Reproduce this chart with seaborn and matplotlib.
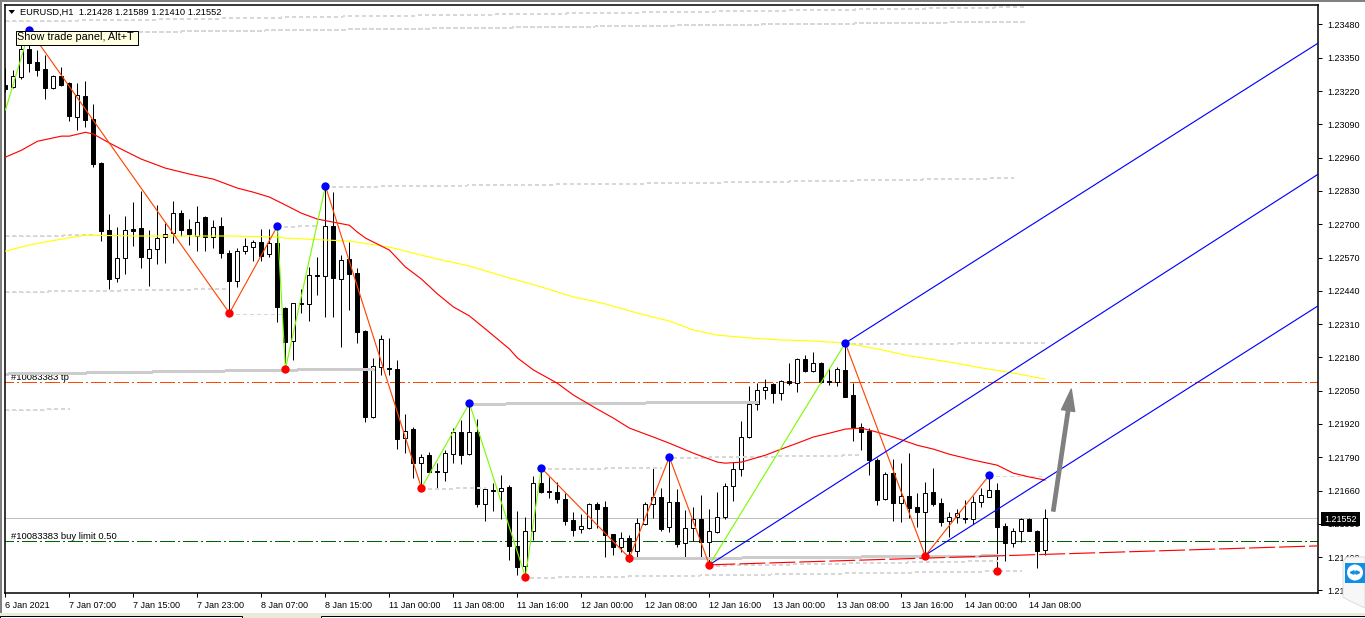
import matplotlib
matplotlib.use("Agg")
import numpy as np
import pandas as pd
import matplotlib.pyplot as plt
import seaborn as sns
from matplotlib.patches import Rectangle, Polygon, Circle

# EURUSD H1 candles, one value per bar
opens = [1.23243,1.23236,1.23275,1.23384,1.23333,1.23306,1.23232,1.23279,1.23251,1.23119,
    1.23200,1.23111,1.22938,1.22677,1.22490,1.22568,1.22681,1.22685,1.22568,1.22603,
    1.22650,1.22665,1.22743,1.22681,1.22654,1.22728,1.22650,1.22693,1.22587,1.22478,
    1.22595,1.22611,1.22630,1.22584,1.22626,1.22373,1.22244,1.22393,1.22389,1.22501,
    1.22497,1.22693,1.22486,1.22564,1.22509,1.22283,1.21947,1.22143,1.22139,1.22135,
    1.21865,1.21900,1.21767,1.21798,1.21736,1.21732,1.21802,1.21888,1.21802,1.21888,
    1.21607,1.21662,1.21658,1.21673,1.21444,1.21366,1.21502,1.21689,1.21660,1.21654,
    1.21627,1.21545,1.21510,1.21514,1.21607,1.21596,1.21490,1.21440,1.21475,1.21424,
    1.21529,1.21607,1.21635,1.21518,1.21615,1.21455,1.21514,1.21549,1.21459,1.21498,
    1.21557,1.21677,1.21744,1.21869,1.21997,1.22052,1.22076,1.22040,1.22087,1.22079,
    1.22174,1.22127,1.22158,1.22087,1.22083,1.22131,1.22033,1.21908,1.21892,1.21779,
    1.21627,1.21728,1.21611,1.21639,1.21596,1.21576,1.21654,1.21611,1.21541,1.21557,
    1.21553,1.21549,1.21615,1.21635,1.21662,1.21522,1.21455,1.21502,1.21549,1.21502,1.21428]
highs = [1.23310,1.23302,1.23407,1.23454,1.23380,1.23360,1.23282,1.23314,1.23255,1.23251,
    1.23259,1.23169,1.22942,1.22739,1.22689,1.22732,1.22786,1.22829,1.22677,1.22775,
    1.22704,1.22790,1.22755,1.22720,1.22771,1.22732,1.22716,1.22728,1.22599,1.22607,
    1.22646,1.22638,1.22681,1.22681,1.22696,1.22377,1.22393,1.22447,1.22533,1.22572,
    1.22849,1.22825,1.22580,1.22630,1.22529,1.22287,1.22178,1.22267,1.22256,1.22170,
    1.21958,1.21908,1.21802,1.21810,1.21767,1.21818,1.21904,1.21935,1.22001,1.21939,
    1.21673,1.21689,1.21720,1.21681,1.21580,1.21557,1.21716,1.21748,1.21713,1.21693,
    1.21650,1.21576,1.21568,1.21611,1.21615,1.21619,1.21490,1.21498,1.21486,1.21553,
    1.21615,1.21752,1.21670,1.21779,1.21666,1.21584,1.21596,1.21643,1.21588,1.21654,
    1.21689,1.21771,1.21931,1.22068,1.22079,1.22095,1.22079,1.22091,1.22158,1.22178,
    1.22190,1.22201,1.22162,1.22139,1.22143,1.22236,1.22079,1.21923,1.21904,1.21787,
    1.21732,1.21783,1.21767,1.21806,1.21650,1.21693,1.21748,1.21630,1.21576,1.21588,
    1.21623,1.21639,1.21670,1.21720,1.21689,1.21533,1.21514,1.21553,1.21553,1.21506,1.21589]
lows = [1.23216,1.23232,1.23267,1.23294,1.23279,1.23189,1.23228,1.23239,1.23103,1.23067,
    1.23079,1.22923,1.22634,1.22447,1.22474,1.22505,1.22615,1.22529,1.22459,1.22544,
    1.22548,1.22626,1.22654,1.22619,1.22595,1.22595,1.22607,1.22568,1.22357,1.22455,
    1.22584,1.22556,1.22556,1.22572,1.22318,1.22158,1.22170,1.22353,1.22322,1.22424,
    1.22338,1.22338,1.22220,1.22365,1.22236,1.21927,1.21943,1.22111,1.22111,1.21822,
    1.21806,1.21709,1.21673,1.21728,1.21666,1.21697,1.21767,1.21763,1.21798,1.21596,
    1.21541,1.21580,1.21549,1.21389,1.21331,1.21323,1.21467,1.21650,1.21630,1.21611,
    1.21525,1.21483,1.21494,1.21510,1.21514,1.21401,1.21408,1.21420,1.21381,1.21397,
    1.21525,1.21553,1.21502,1.21498,1.21440,1.21401,1.21463,1.21401,1.21370,1.21494,
    1.21549,1.21619,1.21716,1.21865,1.21974,1.22017,1.22001,1.22013,1.22072,1.22044,
    1.22123,1.22123,1.22079,1.22072,1.22068,1.22025,1.21853,1.21818,1.21720,1.21603,
    1.21623,1.21541,1.21537,1.21553,1.21518,1.21408,1.21600,1.21522,1.21479,1.21533,
    1.21533,1.21529,1.21596,1.21635,1.21350,1.21385,1.21439,1.21459,1.21502,1.21358,1.21410]
closes = [1.23228,1.23279,1.23384,1.23329,1.23302,1.23232,1.23279,1.23243,1.23123,1.23204,
    1.23107,1.22934,1.22673,1.22486,1.22568,1.22677,1.22673,1.22572,1.22603,1.22646,
    1.22661,1.22743,1.22677,1.22661,1.22708,1.22650,1.22689,1.22587,1.22478,1.22595,
    1.22615,1.22630,1.22576,1.22626,1.22377,1.22240,1.22392,1.22389,1.22501,1.22497,
    1.22693,1.22490,1.22560,1.22505,1.22279,1.21947,1.22147,1.22252,1.22135,1.21861,
    1.21892,1.21767,1.21791,1.21732,1.21732,1.21806,1.21888,1.21798,1.21888,1.21607,
    1.21666,1.21658,1.21670,1.21444,1.21362,1.21502,1.21689,1.21654,1.21656,1.21627,
    1.21541,1.21506,1.21522,1.21607,1.21588,1.21486,1.21440,1.21475,1.21424,1.21533,
    1.21607,1.21635,1.21510,1.21615,1.21451,1.21514,1.21549,1.21459,1.21502,1.21557,
    1.21677,1.21744,1.21869,1.21997,1.22052,1.22064,1.22040,1.22087,1.22079,1.22174,
    1.22127,1.22158,1.22083,1.22083,1.22135,1.22025,1.21908,1.21888,1.21779,1.21623,
    1.21724,1.21611,1.21639,1.21592,1.21576,1.21650,1.21607,1.21537,1.21557,1.21572,
    1.21549,1.21615,1.21643,1.21662,1.21518,1.21455,1.21502,1.21549,1.21502,1.21424,1.21552]

# moving averages
ema_red_x = [0,2,4,7,8,10,11,13,15,17,20,23,26,29,31,33,35,37,39,41,43,44,45,48,50,52,54,56,58,60,
    63,64,66,69,71,74,76,78,81,83,86,89,90,92,95,97,99,101,103,105,107,109,111,114,116,118,121,124,126,128,130]
ema_red_y = [1.22962,1.22989,1.23024,1.23044,1.23044,1.23059,1.23052,1.23017,1.22985,1.22954,
    1.22919,1.22896,1.22876,1.22841,1.22825,1.22806,1.22775,1.22743,1.22720,1.22708,
    1.22696,1.22669,1.22646,1.22599,1.22533,1.22486,1.22428,1.22377,1.22342,1.22291,
    1.22213,1.22178,1.22131,1.22079,1.22033,1.21978,1.21943,1.21904,1.21869,1.21845,
    1.21806,1.21771,1.21767,1.21771,1.21798,1.21822,1.21845,1.21869,1.21884,1.21900,
    1.21904,1.21888,1.21869,1.21837,1.21822,1.21802,1.21779,1.21759,1.21728,1.21713,1.21701]
ema_yellow_x = [0,3,7,10,17,28,34,35,43,48,50,54,58,63,67,71,75,79,83,86,89,93,97,101,105,109,113,118,122,126,130]
ema_yellow_y = [1.22595,1.22619,1.22642,1.22657,1.22654,1.22654,1.22650,1.22646,1.22634,1.22611,
    1.22595,1.22564,1.22537,1.22490,1.22455,1.22416,1.22389,1.22353,1.22322,1.22287,
    1.22267,1.22256,1.22248,1.22244,1.22236,1.22213,1.22186,1.22162,1.22139,1.22119,1.22095]

# zigzag pivots
zigzag_x = [0,3,28,34,35,40,52,58,65,67,78,83,88,105,115,123]
zigzag_y = [1.23146,1.23458,1.22353,1.22693,1.22135,1.22849,1.21670,1.22001,1.21323,1.21748,
    1.21397,1.21791,1.21370,1.22236,1.21405,1.21720]
zigzag_up = [1,0,0,1,1,0,1,1,1,0,0,0,1,0,0]
highs_x = [3,34,40,58,67,83,105,123]
highs_y = [1.23458,1.22693,1.22849,1.22001,1.21748,1.21791,1.22236,1.21720]
lows_x = [28,35,52,65,78,88,115,124]
lows_y = [1.22353,1.22135,1.21670,1.21323,1.21397,1.21370,1.21405,1.21346]

# pitchfork: start bar, start price, end price at the right edge
fork_start_x = [105,88,115]
fork_start_y = [1.22236,1.21370,1.21408]
fork_end_x = 164.1
fork_end_y = [1.23407,1.22895,1.22381]
trend_x = [88,164.1]
trend_y = [1.21370,1.21444]

# grey support/resistance levels
thin_levels = [([0,14.4,41.9,91.9,127.5],[1.23493,1.23497,1.23511,1.23532,1.23548]),
    ([4.4,41.9,91.9,127.5],[1.23446,1.23460,1.23479,1.23491]),
    ([0,11],[1.22654,1.22657]), ([34,39],[1.22689,1.22693]),
    ([0,27.75],[1.22435,1.22447]), ([28,35],[1.22349,1.22349]),
    ([0,8],[1.21974,1.21978]), ([40,85.6,126],[1.22845,1.22861,1.22880]),
    ([52,60],[1.21666,1.21670]), ([67,82],[1.21744,1.21748]),
    ([83.5,107],[1.21787,1.21798]), ([65.6,127],[1.21319,1.21346]),
    ([88,124],[1.21366,1.21385]), ([105,130],[1.22232,1.22236]),
    ([123,130],[1.21716,1.21716])]
thick_levels = [([0,10,18.5,27.75,37,46],[1.22115,1.22119,1.22123,1.22127,1.22131,1.22131]),
    ([58,94],[1.21997,1.22005]), ([78,124],[1.21393,1.21405])]

tp_price = 1.22083
limit_price = 1.21463
bid_price = 1.21552
arrow_from = (131,1.21580)
arrow_to = (133.25,1.22056)

price_ticks = [1.21270,1.21400,1.21530,1.21660,1.21790,1.21920,1.22050,1.22180,1.22310,1.22440,
    1.22570,1.22700,1.22830,1.22960,1.23090,1.23220,1.23350,1.23480]
time_ticks = list(range(0,129,8))
time_labels = ["6 Jan 2021","7 Jan 07:00","7 Jan 15:00","7 Jan 23:00","8 Jan 07:00","8 Jan 15:00",
    "11 Jan 00:00","11 Jan 08:00","11 Jan 16:00","12 Jan 00:00","12 Jan 08:00","12 Jan 16:00",
    "13 Jan 00:00","13 Jan 08:00","13 Jan 16:00","14 Jan 00:00","14 Jan 08:00"]

W, H = 1365, 618
sns.set_theme(style="white")
plt.rcParams['font.family'] = ['Liberation Sans', 'DejaVu Sans']
plt.rcParams['lines.scale_dashes'] = False
PX = 0.72
FS = 6.5

bars = pd.DataFrame({'bar': range(len(opens)), 'open': opens, 'high': highs, 'low': lows, 'close': closes})
up = bars[bars.close >= bars.open]
down = bars[bars.close < bars.open]

fig = plt.figure(figsize=(W/100, H/100), dpi=100, facecolor='white')
ax = fig.add_axes([5/W, 1-593/H, 1313/W, 588.5/H])
ax.set_xlim(-0.0625, 164.1)
ax.set_ylim(1.21260, 1.23558)

def draw_line(x, y, color, width=1, style='-', z=3, aa=True):
    sns.lineplot(x=x, y=y, ax=ax, color=color, linewidth=width*PX, linestyle=style,
                 estimator=None, sort=False, legend=False, zorder=z, antialiased=aa)

# lines behind the candles
dashdot = (0, (15*PX, 4*PX, 2*PX, 4*PX))
draw_line([-1, 165], [bid_price, bid_price], '#c0c0c0', 1, '-', 1, aa=False)
draw_line([-1, 165], [tp_price, tp_price], '#ff4500', 1, dashdot, 1.5, aa=False)
draw_line([-1, 165], [limit_price, limit_price], '#006400', 1, dashdot, 1.5, aa=False)
ax.text(0.75, tp_price, "#10083383 tp", fontsize=6.8, color='black', va='bottom', zorder=1)
ax.text(0.75, limit_price, "#10083383 buy limit 0.50", fontsize=6.8, color='black', va='bottom', zorder=1)

# candles
ax.vlines(bars.bar, bars.low, bars.high, color='black', lw=PX, zorder=2)
ax.bar(up.bar, up.close-up.open, bottom=up.open, width=0.5, facecolor='white', edgecolor='black',
       linewidth=PX, zorder=2.1)
ax.bar(down.bar, down.close-down.open, bottom=down.open, width=0.5, facecolor='black', edgecolor='black',
       linewidth=PX, zorder=2.1)

# levels
for lx, ly in thin_levels:
    draw_line(lx, ly, '#d8d8d8', 1, (0, (3*PX, 3*PX)), 2.5, aa=False)
for lx, ly in thick_levels:
    draw_line(lx, ly, '#cccccc', 2, '-', 2.5, aa=False)

draw_line(ema_yellow_x, ema_yellow_y, '#ffff00', 1.15)
draw_line(ema_red_x, ema_red_y, '#ff0000', 1.15)

for k in range(len(zigzag_up)):
    draw_line(zigzag_x[k:k+2], zigzag_y[k:k+2], '#7cfc00' if zigzag_up[k] else '#ff4500', 1.15)

for k in range(3):
    draw_line([fork_start_x[k], fork_end_x], [fork_start_y[k], fork_end_y[k]], '#0000ff', 1.15, z=3.2)
draw_line(trend_x, trend_y, '#ff0000', 1.15, (0, (26*PX, 4*PX)), 3.1)

sns.scatterplot(x=highs_x, y=highs_y, ax=ax, color='#0000ff', s=36, linewidth=0, zorder=4, legend=False)
sns.scatterplot(x=lows_x, y=lows_y, ax=ax, color='#ff0000', s=36, linewidth=0, zorder=4, legend=False)

ax.annotate('', xy=arrow_to, xytext=arrow_from, zorder=4,
            arrowprops=dict(arrowstyle='simple,head_length=1.3,head_width=0.8,tail_width=0.2',
                            color='#808080', shrinkA=0, shrinkB=0, mutation_scale=12))

# axes
for side in ['left', 'right', 'top', 'bottom']:
    ax.spines[side].set_visible(True)
    ax.spines[side].set_color('black')
    ax.spines[side].set_linewidth(1.1)
ax.yaxis.tick_right()
ax.set_yticks(price_ticks, labels=["%.5f" % p for p in price_ticks])
ax.set_xticks(time_ticks, labels=time_labels)
ax.tick_params(axis='y', length=3, width=PX, pad=3.5, labelsize=FS, colors='black', right=True, left=False)
ax.tick_params(axis='x', length=3, width=PX, pad=2.5, labelsize=FS, colors='black', bottom=True)
for t, lab in enumerate(ax.get_xticklabels()):
    lab.set_ha('left')
    lab.set_x(time_ticks[t])
ax.set_xlabel('')
ax.set_ylabel('')

# window furniture and panels, drawn in pixels on top
over = fig.add_axes([0, 0, 1, 1], zorder=10)
over.set_xlim(0, W)
over.set_ylim(H, 0)
over.axis('off')
over.patch.set_alpha(0)
over.add_patch(Rectangle((0, 0), W, 2, fc='#808080', ec='none'))
over.add_patch(Rectangle((0, 0), 1.5, 613, fc='#808080', ec='none'))
over.add_patch(Rectangle((0, 613), W, 5, fc='#ece9d8', ec='none'))
over.add_patch(Rectangle((0, 616), 242, 3, fc='white', ec='black', lw=PX))
over.add_patch(Rectangle((321, 616), W-321, 3, fc='white', ec='black', lw=PX))

over.add_patch(Polygon([[8.5, 10], [15, 10], [11.75, 14]], fc='black', ec='none'))
over.text(20, 12.5, "EURUSD,H1  1.21428 1.21589 1.21410 1.21552", fontsize=6.7, color='black', va='center', ha='left')

over.add_patch(Rectangle((15.5, 30.5), 122, 14, fc='#ffffe1', ec='black', lw=PX, zorder=6))
over.text(17, 37.5, "Show trade panel, Alt+T", fontsize=7.8, color='black', va='center', ha='left', zorder=7)

over.add_patch(Rectangle((1321, 512), 39, 14, fc='black', ec='none', zorder=6))
over.text(1340.5, 519, "%.5f" % bid_price, fontsize=FS, color='white', va='center', ha='center', zorder=7)

# remote-control widget at the right edge
over.add_patch(Polygon([[1343, 561], [1347, 557], [1365, 557], [1365, 608], [1350, 601], [1343, 597]],
                       fc='#f7f7f7', ec='#dddddd', lw=PX, zorder=6))
over.add_patch(Rectangle((1345, 563), 20, 19.5, fc='#0e8ee9', ec='none', zorder=7))
over.add_patch(Circle((1355, 572.5), 8, fc='white', ec='none', zorder=8))
over.annotate('', xy=(1349, 572.5), xytext=(1361, 572.5), zorder=9,
              arrowprops=dict(arrowstyle='<|-|>', color='#0e8ee9', lw=1.3, mutation_scale=5, shrinkA=0, shrinkB=0))

fig.savefig('out.png', dpi=100)
